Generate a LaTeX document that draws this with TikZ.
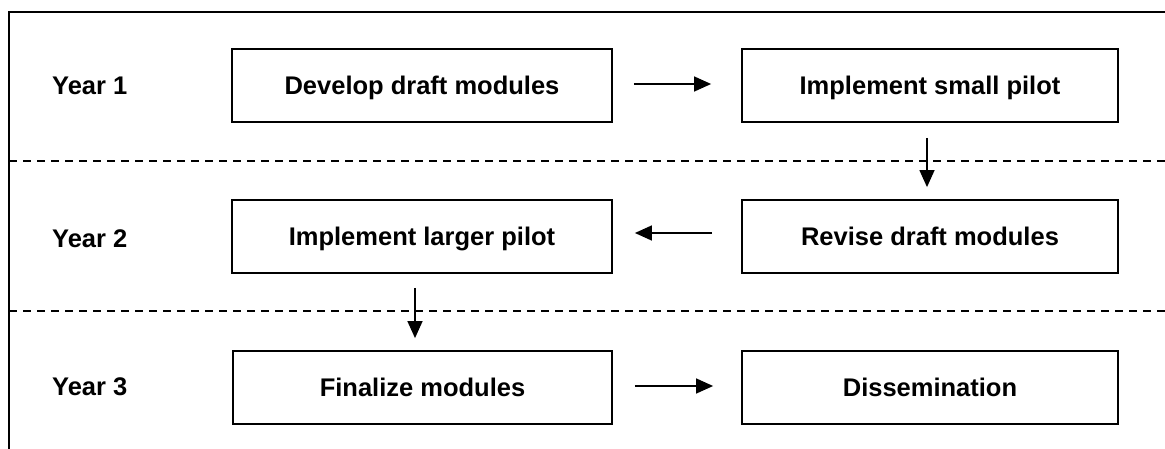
\documentclass[tikz,border=0pt]{standalone}
\usepackage{fontspec}
\setmainfont{Liberation Sans}
\usetikzlibrary{arrows.meta}
\begin{document}
\begin{tikzpicture}[x=1pt,y=-1pt,
  stepbox/.style={draw,line width=1.8pt,minimum height=73pt,minimum width=378pt,inner sep=0pt,text depth=0pt,font=\fontsize{25.5}{30}\selectfont\bfseries},
  yearlbl/.style={anchor=west,inner sep=0pt,font=\fontsize{25.5}{30}\selectfont\bfseries},
  flow/.style={line width=1.4pt,-{Triangle[length=17pt,width=15pt]}},
  sep/.style={line width=1.5pt,dash pattern=on 8pt off 6pt}]
\useasboundingbox (0,0) rectangle (1165,449);
% frame
\draw[line width=2.6pt] (9,449) -- (9,12) -- (1165,12);
% separators
\draw[sep] (9,161) -- (1165,161);
\draw[sep] (9,311) -- (1165,311);
% year labels
\node[yearlbl] (y1) at (52,86) {Year 1};
\node[yearlbl] (y2) at (52,238.5) {Year 2};
\node[yearlbl] (y3) at (52,387) {Year 3};
% boxes
\node[stepbox,minimum width=380pt] (b1) at (422,85.5) {Develop draft modules};
\node[stepbox,minimum width=376pt] (b2) at (930,85.5) {Implement small pilot};
\node[stepbox,minimum width=380pt] (b3) at (422,236.5) {Implement larger pilot};
\node[stepbox,minimum width=376pt] (b4) at (930,236.5) {Revise draft modules};
\node[stepbox,minimum width=379pt] (b5) at (422.5,387.5) {Finalize modules};
\node[stepbox,minimum width=376pt] (b6) at (930,387.5) {Dissemination};
% connectors
\draw[flow,shorten <=21pt,shorten >=30pt] ([yshift=1.5pt]b1.east) -- ([yshift=1.5pt]b2.west);
\draw[flow,shorten <=15pt,shorten >=12pt] ([xshift=-3pt]b2.south) -- ([xshift=-3pt]b4.north);
\draw[flow,shorten <=29pt,shorten >=22pt] ([yshift=3.5pt]b4.west) -- ([yshift=3.5pt]b3.east);
\draw[flow,shorten <=14pt,shorten >=12pt] ([xshift=-7pt]b3.south) -- ([xshift=-7.5pt]b5.north);
\draw[flow,shorten <=22pt,shorten >=28pt] ([yshift=1.5pt]b5.east) -- ([yshift=1.5pt]b6.west);
\end{tikzpicture}
\end{document}
